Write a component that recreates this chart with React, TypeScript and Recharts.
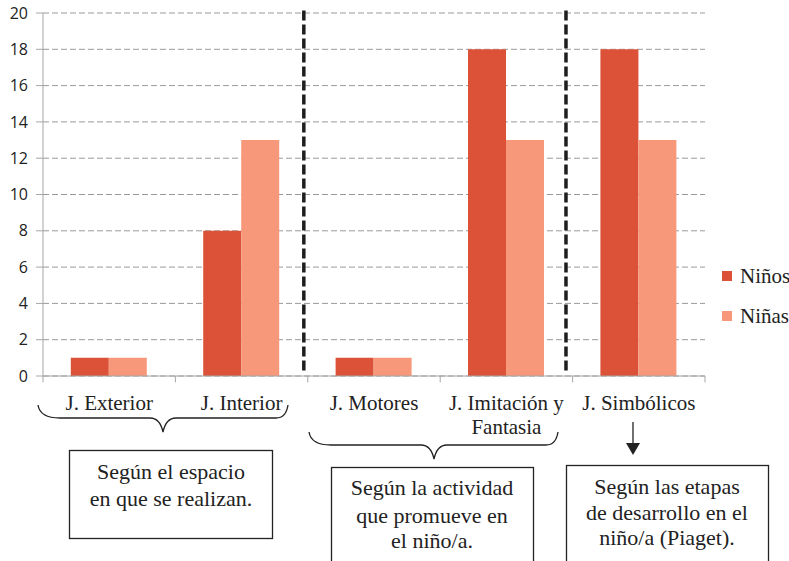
import { BarChart, Bar, XAxis, YAxis, CartesianGrid, ReferenceLine } from 'recharts';

const categories = ['J. Exterior', 'J. Interior', 'J. Motores', 'J. Imitación y Fantasia', 'J. Simbólicos'];
const ninos = [1, 8, 1, 18, 18];
const ninas = [1, 13, 1, 13, 13];
const yTicks = [0, 2, 4, 6, 8, 10, 12, 14, 16, 18, 20];
// category edges in index units, used for the axis tick marks
const edges = [-0.5, 0.5, 1.5, 2.5, 3.5, 4.5];
// black dashed separators between the groups (index units)
const separators = [1.47, 3.45];

const series = [
  { key: 'ninos', name: 'Niños', color: '#DC5238' },
  { key: 'ninas', name: 'Niñas', color: '#F69879' },
];

const data = categories.map((c, i) => ({ name: c, idx: i, ninos: ninos[i], ninas: ninas[i] }));

const serif = '"Liberation Serif", "DejaVu Serif", serif';

function splitLabel(label: string, max = 15) {
  const words = label.split(' ');
  const lines: string[] = [];
  let cur = '';
  words.forEach((w) => {
    const next = cur ? cur + ' ' + w : w;
    if (next.length > max && cur) {
      lines.push(cur);
      cur = w;
    } else {
      cur = next;
    }
  });
  if (cur) lines.push(cur);
  return lines;
}

const CategoryTick = (props: any) => {
  const { x, y, payload } = props;
  const lines = splitLabel(payload.value);
  return (
    <text x={x} y={y + 26} textAnchor="middle" fontFamily={serif} fontSize={21} fill="#222">
      {lines.map((l, i) => (
        <tspan key={i} x={x} dy={i === 0 ? 0 : 24}>
          {l}
        </tspan>
      ))}
    </text>
  );
};

export default function App() {
  return (
    <div style={{ position: 'absolute', left: 0, top: 0, width: 789, height: 561, background: '#fff' }}>
      <BarChart
        width={789}
        height={561}
        data={data}
        margin={{ top: 13, right: 84, bottom: 0, left: 0 }}
        barGap={0}
        barCategoryGap="21%"
      >
        <CartesianGrid vertical={false} stroke="#9a9a9a" strokeDasharray="6 3" />
        <XAxis
          dataKey="name"
          height={185}
          interval={0}
          tickLine={false}
          axisLine={{ stroke: '#a6a6a6' }}
          tick={<CategoryTick />}
        />
        <XAxis xAxisId="pos" dataKey="idx" type="number" domain={[-0.5, 4.5]} allowDataOverflow hide />
        <YAxis
          width={43}
          domain={[0, 20]}
          ticks={yTicks}
          interval={0}
          tickSize={7}
          tickMargin={8}
          axisLine={{ stroke: '#a6a6a6' }}
          tickLine={{ stroke: '#a6a6a6' }}
          tick={{ fontFamily: '"Open Sans", sans-serif', fontSize: 16, fill: '#222' }}
        />
        {series.map((s) => (
          <Bar key={s.key} dataKey={s.key} name={s.name} fill={s.color} isAnimationActive={false} />
        ))}
        {edges.map((e) => (
          <ReferenceLine
            key={'e' + e}
            xAxisId="pos"
            ifOverflow="visible"
            stroke="#a6a6a6"
            segment={[{ x: e, y: 0 }, { x: e, y: -0.35 }]}
          />
        ))}
        {separators.map((s) => (
          <ReferenceLine
            key={'s' + s}
            xAxisId="pos"
            ifOverflow="visible"
            stroke="#1e1e1e"
            strokeWidth={3.5}
            strokeDasharray="10 4"
            segment={[{ x: s, y: 0.3 }, { x: s, y: 20.35 }]}
          />
        ))}
      </BarChart>

      {/* legend */}
      <div style={{ position: 'absolute', left: 722, top: 262, fontFamily: serif, fontSize: 21, color: '#222' }}>
        {series.map((s) => (
          <div key={s.key} style={{ display: 'flex', alignItems: 'center', height: 28, marginBottom: 12 }}>
            <span style={{ display: 'inline-block', width: 10, height: 10, background: s.color, marginRight: 8 }} />
            {s.name}
          </div>
        ))}
      </div>

      {/* annotations below the axis */}
      <svg width={789} height={561} style={{ position: 'absolute', left: 0, top: 0, pointerEvents: 'none' }}>
        <g fill="none" stroke="#222" strokeWidth={1.3}>
          <path d="M38 405 Q40 418 60 418 L150 418 Q160 418 163 432 Q166 418 176 418 L276 418 Q286 418 288 405" />
          <path d="M309 432 Q311 445 331 445 L421 445 Q431 445 434 459 Q437 445 447 445 L546 445 Q556 445 558 432" />
          <line x1={633} y1={422} x2={633} y2={444} />
          <rect x={69.5} y={450.5} width={203} height={88} />
          <rect x={331.5} y={467.5} width={202} height={100} />
          <rect x={566.5} y={465.5} width={202} height={100} />
        </g>
        <path d="M626 443 L640 443 L633 455 Z" fill="#222" />
        <g fontFamily={serif} fontSize={22} fill="#222" textAnchor="middle">
          <text x={171} y={479}>Según el espacio</text>
          <text x={171} y={506}>en que se realizan.</text>
          <text x={432} y={495}>Según la actividad</text>
          <text x={432} y={523}>que promueve en</text>
          <text x={432} y={548}>el niño/a.</text>
          <text x={667} y={494}>Según las etapas</text>
          <text x={667} y={520}>de desarrollo en el</text>
          <text x={667} y={545}>niño/a (Piaget).</text>
        </g>
      </svg>
    </div>
  );
}
